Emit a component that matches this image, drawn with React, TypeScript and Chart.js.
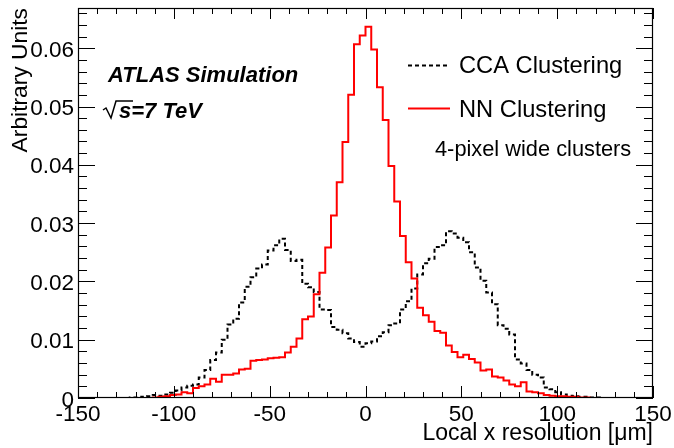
import React, { useEffect, useRef } from 'react';
import { Chart, registerables } from 'chart.js';

Chart.register(...registerables);

const X_MIN = -150;
const X_MAX = 150;
const BIN_WIDTH = 3;
const Y_MAX = 0.0669;

const xTickValues = [-150, -100, -50, 0, 50, 100, 150];
const xTickLabels = ['-150', '-100', '-50', '0', '50', '100', '150'];
const yTickValues = [0, 0.01, 0.02, 0.03, 0.04, 0.05, 0.06];
const yTickLabels = ['0', '0.01', '0.02', '0.03', '0.04', '0.05', '0.06'];

const seriesNames = ['CCA Clustering', 'NN Clustering'];

// CCA clustering, 100 bins of 3 um from -150 to 150
const ccaValues = [
  0, 0, 0, 0, 0, 0, 0, 0, 0, 0.0001,
  0.0001, 0.0002, 0.0003, 0.0005, 0.0004, 0.0006, 0.0009, 0.0013, 0.0018, 0.0021,
  0.0023, 0.0035, 0.0048, 0.0065, 0.0078, 0.0100, 0.0126, 0.0136, 0.0164, 0.0191,
  0.0207, 0.0222, 0.0229, 0.0253, 0.0262, 0.0273, 0.0254, 0.0235, 0.0237, 0.0196,
  0.0190, 0.0182, 0.0152, 0.0151, 0.0122, 0.0117, 0.0111, 0.0102, 0.0096, 0.0088,
  0.0094, 0.0097, 0.0106, 0.0113, 0.0125, 0.0128, 0.0152, 0.0166, 0.0188, 0.0212,
  0.0231, 0.0239, 0.0259, 0.0262, 0.0286, 0.0282, 0.0275, 0.0267, 0.0250, 0.0224,
  0.0201, 0.0181, 0.0161, 0.0125, 0.0119, 0.0109, 0.0066, 0.0059, 0.0048, 0.0040,
  0.0035, 0.0018, 0.0015, 0.0010, 0.0006, 0.0004, 0.0003, 0.0002, 0.0002, 0.0001,
  0.0001, 0, 0, 0, 0, 0, 0, 0, 0, 0,
];

// NN clustering, 100 bins of 3 um from -150 to 150
const nnValues = [
  0, 0, 0, 0, 0, 0, 0, 0, 0, 0,
  0, 0, 0, 0.0001, 0.0002, 0.0003, 0.0005, 0.0006, 0.0010, 0.0008,
  0.0017, 0.0020, 0.0023, 0.0033, 0.0028, 0.0040, 0.0040, 0.0042, 0.0049, 0.0050,
  0.0064, 0.0065, 0.0066, 0.0068, 0.0069, 0.0070, 0.0078, 0.0088, 0.0102, 0.0135,
  0.0140, 0.0178, 0.0215, 0.0258, 0.0313, 0.0370, 0.0439, 0.0520, 0.0607, 0.0622,
  0.0637, 0.0598, 0.0533, 0.0477, 0.0398, 0.0337, 0.0278, 0.0233, 0.0205, 0.0155,
  0.0142, 0.0131, 0.0115, 0.0112, 0.0090, 0.0079, 0.0070, 0.0074, 0.0067, 0.0061,
  0.0047, 0.0049, 0.0037, 0.0035, 0.0030, 0.0023, 0.0020, 0.0027, 0.0011, 0.0010,
  0.0008, 0.0005, 0.0004, 0.0003, 0.0003, 0.0002, 0.0002, 0.0001, 0.0001, 0,
  0, 0, 0, 0, 0, 0, 0, 0, 0, 0,
];

function toSteps(values: number[]) {
  const pts = values.map((v, i) => ({ x: X_MIN + i * BIN_WIDTH, y: v }));
  pts.push({ x: X_MIN + values.length * BIN_WIDTH, y: values[values.length - 1] });
  return pts;
}

const FONT = '"Liberation Sans", Arial, Helvetica, sans-serif';

const atlasPlugin = {
  id: 'atlasDecor',
  afterDatasetsDraw(chart: any) {
    const ctx: CanvasRenderingContext2D = chart.ctx;
    const xs = chart.scales.x;
    const ys = chart.scales.y;
    const a = chart.chartArea;
    ctx.save();
    ctx.strokeStyle = '#000';
    ctx.fillStyle = '#000';
    ctx.lineWidth = 1;

    // ticks (inside, ROOT style)
    ctx.beginPath();
    for (let v = X_MIN; v <= X_MAX; v += 10) {
      const px = Math.round(xs.getPixelForValue(v)) + 0.5;
      const major = v % 50 === 0;
      ctx.moveTo(px, a.bottom);
      ctx.lineTo(px, a.bottom - (major ? 12 : 6));
      ctx.moveTo(px, a.top);
      ctx.lineTo(px, a.top + (major ? 11 : 6));
    }
    for (let i = 0; i * 0.002 <= Y_MAX; i++) {
      const py = Math.round(ys.getPixelForValue(i * 0.002)) + 0.5;
      const major = i % 5 === 0;
      ctx.moveTo(a.left, py);
      ctx.lineTo(a.left + (major ? 17 : 9), py);
      ctx.moveTo(a.right, py);
      ctx.lineTo(a.right - (major ? 17 : 9), py);
    }
    ctx.stroke();

    // frame
    ctx.lineWidth = 1.2;
    ctx.strokeRect(a.left + 0.5, a.top + 0.5, a.right - a.left - 1, a.bottom - a.top - 1);

    // tick labels
    ctx.font = `22.5px ${FONT}`;
    ctx.textBaseline = 'alphabetic';
    ctx.textAlign = 'center';
    xTickValues.forEach((v, i) => {
      ctx.fillText(xTickLabels[i], xs.getPixelForValue(v), 421);
    });
    ctx.textAlign = 'right';
    yTickValues.forEach((v, i) => {
      ctx.fillText(yTickLabels[i], a.left - 4, ys.getPixelForValue(v) + 8.5);
    });

    // axis titles
    ctx.font = `23px ${FONT}`;
    ctx.textAlign = 'right';
    ctx.fillText('Local x resolution [\u03bcm]', a.right, 440);
    ctx.save();
    ctx.translate(27, a.top);
    ctx.rotate(-Math.PI / 2);
    ctx.textAlign = 'right';
    ctx.font = `22.8px ${FONT}`;
    ctx.fillText('Arbitrary Units', 0, 0);
    ctx.restore();

    // ATLAS label
    ctx.textAlign = 'left';
    ctx.font = `italic bold 22px ${FONT}`;
    ctx.fillText('ATLAS Simulation', 108, 82);
    // sqrt(s)
    ctx.lineWidth = 1.5;
    ctx.beginPath();
    ctx.moveTo(103, 110);
    ctx.lineTo(106, 108);
    ctx.lineTo(111, 118);
    ctx.lineTo(116, 101);
    ctx.lineTo(133, 101);
    ctx.stroke();
    ctx.fillText('s=7 TeV', 119, 118);

    // legend
    ctx.font = `23.7px ${FONT}`;
    ctx.lineWidth = 2;
    ctx.strokeStyle = '#000';
    ctx.setLineDash([4, 3]);
    ctx.beginPath();
    ctx.moveTo(408, 65.5);
    ctx.lineTo(450, 65.5);
    ctx.stroke();
    ctx.setLineDash([]);
    ctx.fillText(seriesNames[0], 459, 73);
    ctx.strokeStyle = '#ff0000';
    ctx.beginPath();
    ctx.moveTo(408, 108.5);
    ctx.lineTo(450, 108.5);
    ctx.stroke();
    ctx.fillText(seriesNames[1], 459, 117);
    ctx.font = `21.8px ${FONT}`;
    ctx.fillText('4-pixel wide clusters', 435, 156);
    ctx.restore();
  },
};

export default function App() {
  const ref = useRef<HTMLCanvasElement>(null);
  useEffect(() => {
    if (!ref.current) return;
    const chart = new Chart(ref.current, {
      type: 'line',
      data: {
        datasets: [
          {
            label: seriesNames[1],
            data: toSteps(nnValues),
            borderColor: '#ff0000',
            borderWidth: 2,
            stepped: 'before',
            pointRadius: 0,
            fill: false,
            order: 0,
          },
          {
            label: seriesNames[0],
            data: toSteps(ccaValues),
            borderColor: '#000000',
            borderWidth: 2,
            borderDash: [4, 3],
            stepped: 'before',
            pointRadius: 0,
            fill: false,
            order: 1,
          },
        ],
      } as any,
      options: {
        animation: false,
        responsive: false,
        events: [],
        layout: { padding: { top: 8, right: 21, left: 0, bottom: 0 } },
        plugins: { legend: { display: false }, tooltip: { enabled: false } },
        scales: {
          x: {
            type: 'linear',
            min: X_MIN,
            max: X_MAX,
            ticks: { display: false },
            grid: { display: false },
            border: { display: false },
            afterFit: (s: any) => { s.height = 50; },
          },
          y: {
            type: 'linear',
            min: 0,
            max: Y_MAX,
            ticks: { display: false },
            grid: { display: false },
            border: { display: false },
            afterFit: (s: any) => { s.width = 78; },
          },
        },
      } as any,
      plugins: [atlasPlugin],
    });
    return () => chart.destroy();
  }, []);
  return (
    <div style={{ position: 'absolute', left: 0, top: 0, width: 674, height: 448, background: '#fff' }}>
      <canvas ref={ref} width={674} height={448} style={{ display: 'block' }} />
    </div>
  );
}
